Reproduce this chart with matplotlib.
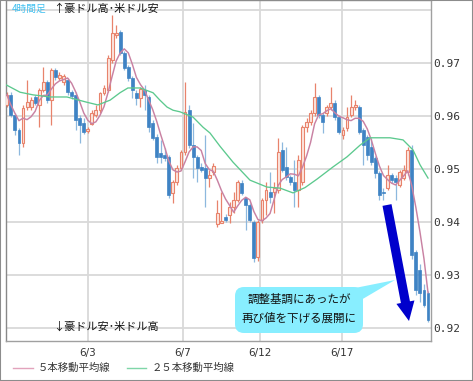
import matplotlib
matplotlib.use('Agg')
import matplotlib.pyplot as plt
import numpy as np
import pandas as pd
from matplotlib.patches import FancyBboxPatch, Polygon, FancyArrowPatch
from matplotlib.lines import Line2D
from matplotlib.transforms import IdentityTransform

W, H = 473, 381

# ---- data (4h candles, AUD/USD) ----
opens = [.9621, .9640, .9602, .9574, .9549, .9617, .9617, .9636, .9621, .9649,
         .9664, .9630, .9687, .9672, .9664, .9668, .9645, .9640, .9596, .9587,
         .9572, .9585, .9602, .9611, .9643, .9649, .9706, .9753, .9759, .9719,
         .9693, .9672, .9643, .9634, .9649, .9636, .9587, .9561, .9530, .9527,
         .9523, .9454, .9475, .9502, .9532, .9611, .9545, .9523, .9504, .9502,
         .9483, .9494, .9396, .9398, .9410, .9413, .9428, .9442, .9474, .9445,
         .9432, .9400, .9334, .9404, .9442, .9457, .9457, .9460, .9536, .9504,
         .9485, .9476, .9460, .9476, .9579, .9589, .9606, .9636, .9602, .9606,
         .9617, .9625, .9598, .9564, .9577, .9602, .9617, .9617, .9574, .9560,
         .9542, .9521, .9493, .9457, .9464, .9489, .9483, .9470, .9483, .9494,
         .9536, .9343, .9310, .9272, .9266]
highs = [.9645, .9645, .9606, .9577, .9621, .9668, .9636, .9640, .9653, .9693,
         .9668, .9691, .9691, .9683, .9680, .9672, .9649, .9645, .9602, .9596,
         .9580, .9611, .9621, .9645, .9659, .9715, .9791, .9772, .9762, .9722,
         .9696, .9676, .9649, .9655, .9659, .9640, .9593, .9566, .9555, .9540,
         .9527, .9479, .9508, .9536, .9664, .9621, .9587, .9527, .9511, .9564,
         .9498, .9511, .9442, .9457, .9415, .9438, .9457, .9479, .9479, .9447,
         .9436, .9404, .9404, .9445, .9476, .9494, .9476, .9559, .9551, .9542,
         .9489, .9517, .9527, .9583, .9596, .9611, .9662, .9640, .9606, .9621,
         .9655, .9630, .9602, .9580, .9617, .9640, .9630, .9621, .9577, .9564,
         .9559, .9525, .9496, .9464, .9508, .9493, .9489, .9498, .9508, .9542,
         .9545, .9347, .9320, .9283, .9270]
lows = [.9617, .9598, .9564, .9527, .9542, .9611, .9611, .9621, .9579, .9645,
        .9625, .9583, .9668, .9668, .9659, .9640, .9632, .9574, .9549, .9566,
        .9568, .9583, .9598, .9606, .9640, .9645, .9700, .9748, .9715, .9687,
        .9666, .9634, .9621, .9617, .9611, .9570, .9555, .9511, .9511, .9515,
        .9445, .9436, .9470, .9498, .9527, .9540, .9483, .9476, .9494, .9428,
        .9466, .9489, .9391, .9398, .9400, .9398, .9417, .9438, .9451, .9385,
        .9400, .9325, .9327, .9398, .9413, .9436, .9417, .9455, .9494, .9479,
        .9470, .9428, .9428, .9470, .9570, .9583, .9600, .9596, .9568, .9600,
        .9611, .9593, .9566, .9557, .9572, .9598, .9611, .9566, .9508, .9517,
        .9508, .9483, .9442, .9442, .9460, .9474, .9442, .9466, .9479, .9489,
        .9330, .9262, .9250, .9240, .9211]
closes = [.9640, .9602, .9574, .9549, .9615, .9626, .9630, .9625, .9649, .9664,
          .9630, .9687, .9674, .9677, .9676, .9645, .9638, .9593, .9583, .9570,
          .9576, .9606, .9611, .9643, .9653, .9710, .9757, .9757, .9719, .9691,
          .9672, .9649, .9634, .9651, .9640, .9579, .9559, .9523, .9523, .9521,
          .9451, .9475, .9502, .9532, .9607, .9545, .9523, .9502, .9498, .9483,
          .9489, .9506, .9417, .9402, .9404, .9428, .9442, .9476, .9455, .9433,
          .9404, .9332, .9400, .9442, .9460, .9447, .9464, .9532, .9498, .9485,
          .9476, .9460, .9517, .9579, .9589, .9606, .9636, .9602, .9589, .9617,
          .9625, .9598, .9570, .9574, .9598, .9617, .9620, .9570, .9545, .9527,
          .9513, .9493, .9451, .9455, .9489, .9479, .9476, .9494, .9498, .9536,
          .9338, .9272, .9266, .9243, .9215]

ma25_idx = [-0.2, 3.26, 6.47, 10.67, 14.86, 19.8, 22.5, 25.5, 27.95, 29.9, 32.9,
            36.1, 37.8, 39.56, 41.04, 42.77, 45.98, 48.44, 50.17, 52.64, 55.85,
            60.05, 64.25, 67.46, 70.67, 73.63, 76.59, 80.54, 84.0, 87.21, 89.68,
            92.15, 94.62, 97.83, 100.3, 102.03, 104.0]
ma25_val = [.9659, .9645, .9640, .9636, .9636, .9626, .9621, .9630, .9644, .9653,
            .9653, .9644, .9630, .9617, .9611, .9608, .9598, .9579, .9568, .9543,
            .9513, .9479, .9466, .9464, .9455, .9465, .9481, .9504, .9523, .9545,
            .9559, .9559, .9559, .9555, .9536, .9508, .9483]

ytick_vals = [0.92, 0.93, 0.94, 0.95, 0.96, 0.97, 0.98]
ytick_labels = ['0.92', '0.93', '0.94', '0.95', '0.96', '0.97', '']
date_idx = [20, 43.4, 62.5, 82.8]
date_labels = ['6/3', '6/7', '6/12', '6/17']

legend_labels = ['５本移動平均線', '２５本移動平均線']
note_text = '調整基調にあったが\n再び値を下げる展開に'

# ---- styling ----
UP_EDGE = '#e8836c'
UP_FILL = '#fde6df'
DN_COL = '#3f83c4'
DN_WICK = '#8db8de'
MA5_COL = '#c982a3'
MA25_COL = '#5cc98e'
GRID = '#d9d9d9'
CJK = ['Noto Sans CJK JP', 'DejaVu Sans']

fig = plt.figure(figsize=(W / 100, H / 100), dpi=100)
fig.patch.set_facecolor('white')

def fx(x):
    return x / W

def fy(y):
    return 1 - y / H

ax = fig.add_axes([fx(6), fy(341), fx(431) - fx(6), fy(0) - fy(341)])
ax.set_facecolor('white')

o = np.array(opens); h = np.array(highs); l = np.array(lows); c = np.array(closes)
idx = np.arange(len(c))
up = c >= o

# wicks
ax.vlines(idx[up], l[up], h[up], color=UP_EDGE, lw=0.9, zorder=2)
ax.vlines(idx[~up], l[~up], h[~up], color=DN_WICK, lw=0.9, zorder=2)
# bodies
body_lo = np.minimum(o, c)
body_h = np.maximum(np.abs(c - o), 0.00012)
ax.bar(idx[up], body_h[up], bottom=body_lo[up], width=0.72,
       facecolor=UP_FILL, edgecolor=UP_EDGE, linewidth=0.8, zorder=3)
ax.bar(idx[~up], body_h[~up], bottom=body_lo[~up], width=0.72,
       facecolor=DN_COL, edgecolor=DN_COL, linewidth=0.5, zorder=3)

# moving averages
ma5 = pd.Series(c).rolling(5, min_periods=1).mean()
ax.plot(idx, ma5, color=MA5_COL, lw=1.05, zorder=4)
ax.plot(ma25_idx, ma25_val, color=MA25_COL, lw=0.95, zorder=4)

ax.set_xlim(-0.2, -0.2 + 425 / 4.05)
ax.set_ylim(0.9819 - 341 * 0.0001887, 0.9819)

ax.yaxis.tick_right()
ax.set_yticks(ytick_vals)
ax.set_yticklabels(ytick_labels, family='DejaVu Sans Mono', fontsize=8, color='#333333')
ax.set_xticks(date_idx)
ax.set_xticklabels(date_labels, fontsize=7.5, color='#333333')
ax.tick_params(axis='both', length=0)
ax.tick_params(axis='y', pad=1.5)
ax.tick_params(axis='x', pad=5)
ax.grid(True, color=GRID, lw=1.3)
ax.set_axisbelow(True)
for s in ax.spines.values():
    s.set_color('#a0a0a0')
    s.set_linewidth(1.0)
ax.spines['left'].set_color('#888888')

# texts inside plot
fig.text(fx(12), fy(9), '4時間足', family=CJK, fontsize=7, color='#40c0f0', va='center', ha='left')
fig.text(fx(53), fy(9), '↑豪ドル高･米ドル安', family=CJK, fontsize=8, color='#111111', va='center', ha='left')
fig.text(fx(53), fy(327), '↓豪ドル安･米ドル高', family=CJK, fontsize=8, color='#111111', va='center', ha='left')

# callout box (pixel space)
ident = IdentityTransform()
box = FancyBboxPatch((235, H - 333), 128, 46, boxstyle='round,pad=0,rounding_size=9',
                     transform=ident, facecolor='#88eeff', edgecolor='none', zorder=6)
fig.add_artist(box)
ptr = Polygon([(350, H - 289), (395, H - 280), (361, H - 300)], closed=True,
              transform=ident, facecolor='#88eeff', edgecolor='none', zorder=6)
fig.add_artist(ptr)
fig.text(fx(299), fy(309), note_text, family=CJK, fontsize=8.3, color='#111111',
         ha='center', va='center', linespacing=1.55, zorder=7)

arrow = FancyArrowPatch((387, H - 205), (409, H - 321), transform=ident,
                        arrowstyle='simple,head_length=1.15,head_width=1.1,tail_width=0.55',
                        mutation_scale=12, shrinkA=0, shrinkB=0,
                        facecolor='#0000cc', edgecolor='none', zorder=8)
fig.add_artist(arrow)

# legend
fig.add_artist(Line2D([fx(13), fx(33)], [fy(368), fy(368)], color='#e2a3bc', lw=1.0))
fig.text(fx(38), fy(368), legend_labels[0], family=CJK, fontsize=7.5, color='#333333', va='center')
fig.add_artist(Line2D([fx(127), fx(146)], [fy(368), fy(368)], color='#7fd6a8', lw=1.0))
fig.text(fx(152), fy(368), legend_labels[1], family=CJK, fontsize=7.5, color='#333333', va='center')

# outer border
fig.add_artist(plt.Rectangle((0, 0), 1, 1, transform=fig.transFigure, fill=False,
                             edgecolor='#8c8c8c', lw=1.5))

fig.savefig('out.png', dpi=100)
